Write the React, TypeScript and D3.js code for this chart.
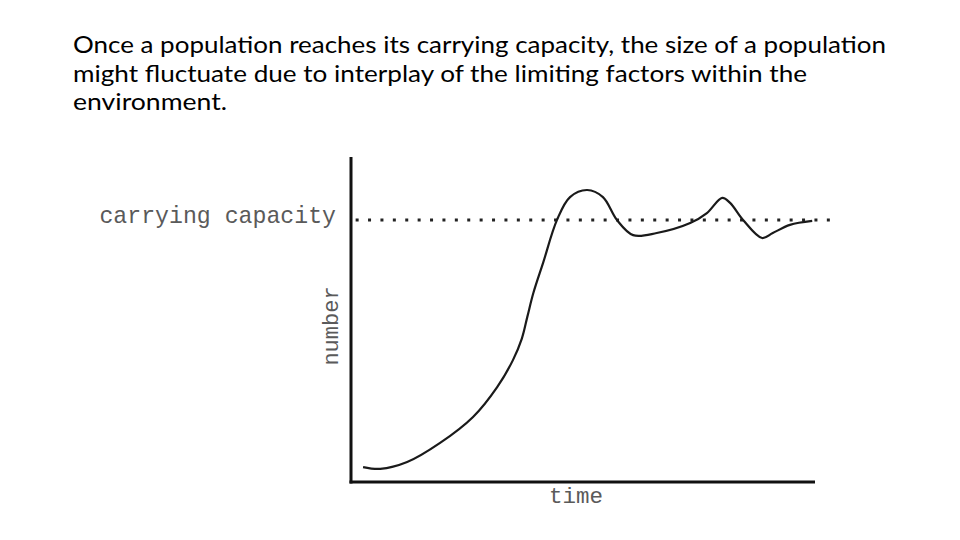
import { useEffect } from 'react';
import * as d3 from "d3";

// population size over time (number units, carrying capacity = 100)
const times = [2.6, 6.3, 12.1, 19.2, 26.3, 31.5, 34.9, 36.8, 38.0, 39.3, 41.4, 44.4, 47.2, 50.9, 54.3, 57.3, 60.8, 65.9, 73.1, 76.7, 80.0, 81.7, 84.5, 88.6, 90.9, 94.6, 99.4];
const numbers = [5.7, 5.0, 7.6, 14.9, 24.8, 36.2, 46.5, 54.6, 63.0, 72.1, 83.6, 100.0, 108.7, 111.4, 108.7, 100.0, 94.2, 95.0, 98.8, 102.6, 108.4, 106.5, 100.0, 93.1, 95.0, 98.1, 99.6];
const carryingCapacity = 100;

const titleLines = [
     "Once a population reaches its carrying capacity, the size of a population",
     "might fluctuate due to interplay of the limiting factors within the",
     "environment.",
];
const titleWidths = [813, 734, 154];

const W = 960;
const H = 540;
const plot = { left: 351, right: 815, top: 157, bottom: 482 };

export default function App() {
     useEffect(() => {
          document.body.style.margin = "0";
     }, []);

     const x = d3.scaleLinear().domain([0, 100]).range([plot.left, plot.right]);
     const y = d3.scaleLinear().domain([0, 124]).range([plot.bottom, plot.top]);

     const line = d3.line<number>()
          .x((_, i) => x(times[i]))
          .y(d => y(d))
          .curve(d3.curveCatmullRom.alpha(0.5));

     const kY = y(carryingCapacity);
     const mono = "'Liberation Mono', 'DejaVu Sans Mono', monospace";

     return (
          <div style={{ position: "fixed", left: 0, top: 0, width: W, height: H, background: "#fff" }}>
               <svg width={W} height={H}>
                    {titleLines.map((t, i) => (
                         <text
                              key={i}
                              x={73}
                              y={53 + i * 28.5}
                              fontFamily="Lato, 'Open Sans', sans-serif"
                              fontSize={23.5}
                              fill="#000"
                              textLength={titleWidths[i]}
                              lengthAdjust="spacingAndGlyphs"
                         >{t}</text>
                    ))}

                    {/* carrying capacity reference */}
                    <line x1={x(1)} x2={x(105)} y1={kY} y2={kY}
                         stroke="#222" strokeWidth={3} strokeDasharray="3 9.4" />
                    <text x={336} y={kY + 3} textAnchor="end" fontFamily={mono}
                         fontSize={23.2} fill="#5a5a5a">carrying capacity</text>

                    {/* population curve */}
                    <path d={line(numbers) ?? ""} fill="none" stroke="#1a1a1a" strokeWidth={2.2} />

                    {/* axes */}
                    <line x1={plot.left} x2={plot.left} y1={plot.top} y2={plot.bottom + 1.5}
                         stroke="#111" strokeWidth={3} />
                    <line x1={plot.left - 1.5} x2={plot.right} y1={plot.bottom} y2={plot.bottom}
                         stroke="#111" strokeWidth={3} />

                    <text transform={`translate(338,326) rotate(-90)`} textAnchor="middle"
                         fontFamily={mono} fontSize={22} fill="#5a5a5a">number</text>
                    <text x={576} y={503} textAnchor="middle"
                         fontFamily={mono} fontSize={22.5} fill="#5a5a5a">time</text>
               </svg>
          </div>
     );
}
